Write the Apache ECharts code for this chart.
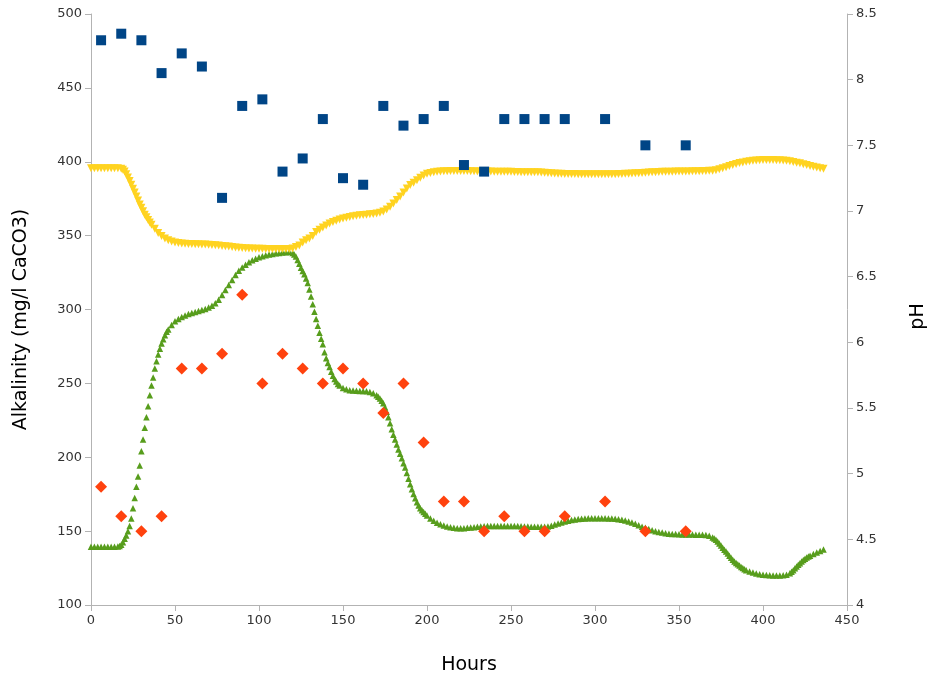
<!DOCTYPE html>
<html>
<head>
<meta charset="utf-8">
<script src="https://cdn.jsdelivr.net/npm/echarts@6/dist/echarts.min.js"></script>
<style>html,body{margin:0;padding:0;background:#fff;overflow:hidden}#c{width:929px;height:681px}</style>
</head>
<body>
<div id="c"></div>
<script>
// Measured samples
var sampleHours = [6,18,30,42,54,66,78,90,102,114,126,138,150,162,174,186,198,210,222,234,246,258,270,282,306,330,354];
var samplePH = [8.3,8.35,8.3,8.05,8.2,8.1,7.1,7.8,7.85,7.3,7.4,7.7,7.25,7.2,7.8,7.65,7.7,7.8,7.35,7.3,7.7,7.7,7.7,7.7,7.7,7.5,7.5];
var sampleAlk = [180,160,150,160,260,260,270,310,250,270,260,250,260,250,230,250,210,170,170,150,160,150,150,160,170,150,150];

// Modelled alkalinity [hour, mg/l]
var modelAlk = [
[0,139.5],[2,139.5],[4,139.5],[6,139.5],[8,139.5],[10,139.5],[12,139.5],[14,139.5],[16,139.6],[17,140],
[18,140.8],[19,142.5],[20,144.8],[21,147],[22,150],[23,153.5],[24,158.5],[25,165.5],[26,172.5],[27,180],
[28,187],[29,194.5],[30,204],[31,212],[32,220],[33,227],[34,234.5],[35,242],[36,248.5],[37,254],
[38,260],[39,265],[40,269.5],[41,273.5],[42,277],[43,279.8],[44,282.5],[45,285],[46,286.5],[48,289.5],
[50,292],[52,293.6],[54,295],[56,296],[58,297],[60,297.6],[62,298.3],[64,299],[66,299.6],[68,300.4],
[70,301.3],[72,302.5],[74,304.2],[76,306.6],[78,309.8],[80,313.2],[82,316.5],[84,320],[86,323.4],[88,326.3],
[90,328.4],[92,330.3],[94,332],[96,333.4],[98,334.4],[100,335.3],[102,336],[104,336.7],[106,337.2],[108,337.6],
[110,338],[112,338.3],[114,338.5],[116,338.7],[118,338.9],[120,338.3],[121,337.2],[122,335.8],[123,333.5],[124,331],
[125,328.2],[126,326],[127,323.8],[128,321],[129,318],[130,313.5],[131,308.8],[132,303.5],[133,298.5],[134,293.5],
[135,289],[136,284.2],[137,280.2],[138,276.5],[139,271],[140,267],[141,263.8],[142,261],[143,257.8],[144,255.2],
[145,253],[146,251.2],[147,249.6],[148,248.5],[150,246.8],[152,246],[154,245.4],[156,245.1],[158,245],[160,244.9],
[162,244.8],[164,244.6],[166,244.1],[168,243.3],[170,242],[171,241],[172,239.8],[173,238.3],[174,236.5],[175,233.8],
[176,230.8],[177,227],[178,223],[179,219],[180,215.3],[181,212],[182,208.7],[183,205.3],[184,202.3],[185,199.3],
[186,196],[187,193],[188,189.3],[189,185.4],[190,181.8],[191,178.3],[192,175.2],[193,172.2],[194,169.6],[195,167.3],
[196,165.5],[197,164.1],[198,163],[199,161.8],[200,160.6],[202,158.6],[204,157],[206,155.7],[208,154.7],[210,153.8],
[212,153.2],[214,152.7],[216,152.3],[218,152],[220,151.9],[222,152],[224,152.2],[226,152.4],[228,152.6],[230,152.9],
[232,153.1],[234,153.3],[236,153.5],[238,153.5],[240,153.5],[242,153.5],[244,153.5],[246,153.5],[248,153.5],[250,153.5],
[252,153.5],[254,153.4],[256,153.3],[258,153.2],[260,153.1],[262,153],[264,153],[266,153],[268,153],[270,153],
[272,153.2],[274,153.7],[276,154.4],[278,155.2],[280,155.9],[282,156.5],[284,157],[286,157.5],[288,157.9],[290,158.2],
[292,158.4],[294,158.6],[296,158.7],[298,158.7],[300,158.7],[302,158.7],[304,158.7],[306,158.7],[308,158.6],[310,158.5],
[312,158.3],[314,158.1],[316,157.7],[318,157.2],[320,156.5],[322,155.9],[324,155],[326,154],[328,153],[330,152.2],
[332,151.4],[334,150.6],[336,150],[338,149.4],[340,149],[342,148.6],[344,148.3],[346,148.1],[348,148],[350,147.9],
[352,147.8],[354,147.8],[356,147.7],[358,147.7],[360,147.6],[362,147.6],[364,147.5],[366,147.4],[368,146.8],[370,145.7],
[371,145],[372,144.2],[373,143],[374,141.7],[375,140.3],[376,138.8],[377,137.4],[378,136.2],[379,134.9],[380,133.4],
[381,132],[382,130.7],[383,129.4],[384,128.4],[385,127.5],[386,126.7],[387,125.8],[388,125],[389,124.2],[390,123.5],
[392,122.7],[394,122],[396,121.3],[398,120.8],[400,120.5],[402,120.3],[404,120.1],[406,120],[408,120],[410,120],
[412,120.1],[414,120.4],[416,121.5],[417,122.5],[418,123.6],[419,124.8],[420,126],[421,127.2],[422,128.3],[423,129.4],
[424,130.4],[425,131.3],[426,132.1],[427,132.8],[428,133.4],[430,134.5],[432,135.6],[434,136.6],[436,137.6]
];

// Modelled pH [hour, pH]
var modelPH = [
[0,7.325],[2,7.325],[4,7.325],[6,7.325],[8,7.325],[10,7.325],[12,7.325],[14,7.325],[16,7.325],[18,7.322],
[19,7.315],[20,7.3],[21,7.28],[22,7.255],[23,7.228],[24,7.2],[25,7.17],[26,7.14],[27,7.11],[28,7.08],
[29,7.05],[30,7.025],[31,6.998],[32,6.972],[33,6.952],[34,6.932],[35,6.912],[36,6.895],[38,6.865],[40,6.833],
[42,6.81],[44,6.79],[46,6.777],[48,6.768],[50,6.761],[52,6.756],[54,6.753],[56,6.751],[58,6.749],[60,6.748],
[62,6.747],[64,6.746],[66,6.745],[68,6.744],[70,6.743],[72,6.742],[74,6.74],[76,6.737],[78,6.734],[80,6.731],
[82,6.729],[84,6.726],[86,6.723],[88,6.72],[90,6.718],[92,6.716],[94,6.715],[96,6.714],[98,6.713],[100,6.712],
[102,6.712],[104,6.711],[106,6.711],[108,6.711],[110,6.711],[112,6.711],[114,6.711],[116,6.711],[118,6.711],[120,6.715],
[122,6.725],[124,6.738],[126,6.76],[128,6.778],[130,6.79],[132,6.81],[134,6.84],[136,6.857],[138,6.874],[140,6.89],
[142,6.905],[144,6.916],[146,6.926],[148,6.935],[150,6.943],[152,6.949],[154,6.955],[156,6.96],[158,6.964],[160,6.967],
[162,6.97],[164,6.972],[166,6.975],[168,6.978],[170,6.981],[172,6.986],[174,6.996],[176,7.012],[178,7.033],[180,7.057],
[182,7.083],[184,7.11],[186,7.14],[188,7.172],[190,7.198],[192,7.216],[194,7.235],[196,7.254],[198,7.27],[200,7.283],
[202,7.29],[204,7.295],[206,7.298],[208,7.3],[210,7.302],[212,7.303],[214,7.304],[216,7.305],[218,7.305],[220,7.305],
[222,7.305],[224,7.304],[226,7.303],[228,7.302],[230,7.301],[232,7.3],[234,7.3],[236,7.3],[238,7.3],[240,7.299],
[242,7.299],[244,7.299],[246,7.298],[248,7.298],[250,7.298],[252,7.297],[254,7.297],[256,7.296],[258,7.296],[260,7.296],
[262,7.295],[264,7.295],[266,7.295],[268,7.294],[270,7.292],[272,7.29],[274,7.288],[276,7.286],[278,7.284],[280,7.283],
[282,7.282],[284,7.282],[286,7.281],[288,7.281],[290,7.28],[292,7.28],[294,7.28],[296,7.279],[298,7.279],[300,7.279],
[302,7.279],[304,7.279],[306,7.279],[308,7.279],[310,7.279],[312,7.28],[314,7.281],[316,7.282],[318,7.283],[320,7.284],
[322,7.286],[324,7.287],[326,7.288],[328,7.29],[330,7.292],[332,7.293],[334,7.295],[336,7.296],[338,7.297],[340,7.298],
[342,7.298],[344,7.299],[346,7.299],[348,7.3],[350,7.3],[352,7.3],[354,7.301],[356,7.301],[358,7.302],[360,7.302],
[362,7.303],[364,7.304],[366,7.305],[368,7.306],[370,7.307],[372,7.311],[374,7.318],[376,7.326],[378,7.334],[380,7.342],
[382,7.35],[384,7.358],[386,7.365],[388,7.37],[390,7.375],[392,7.379],[394,7.382],[396,7.385],[398,7.387],[400,7.388],
[402,7.388],[404,7.388],[406,7.388],[408,7.387],[410,7.386],[412,7.385],[414,7.383],[416,7.379],[418,7.374],[420,7.368],
[422,7.363],[424,7.356],[426,7.35],[428,7.343],[430,7.337],[432,7.331],[434,7.326],[436,7.322]
];

var xName = 'Hours', yLeftName = 'Alkalinity (mg/l CaCO3)', yRightName = 'pH';

var FONT = 'DejaVu Sans';
var axisGray = '#b3b3b3';
var labelStyle = {color: '#333', fontSize: 13, fontFamily: FONT};
var nameStyle = {color: '#000', fontSize: 19, fontFamily: FONT};

function pairs(xs, ys) { return xs.map(function (x, i) { return [x, ys[i]]; }); }

var chart = echarts.init(document.getElementById('c'), null, {renderer: 'canvas', width: 929, height: 681});
chart.setOption({
  animation: false,
  backgroundColor: '#fff',
  grid: {left: 91, right: 82, top: 14, bottom: 76, containLabel: false, outerBoundsMode: 'none'},
  xAxis: {
    type: 'value', min: 0, max: 450, interval: 50,
    name: xName, nameLocation: 'middle', nameGap: 51, nameTextStyle: nameStyle,
    axisLine: {show: true, lineStyle: {color: axisGray, width: 1}},
    axisTick: {show: true, length: 6, lineStyle: {color: axisGray}},
    axisLabel: Object.assign({margin: 9}, labelStyle),
    splitLine: {show: false}
  },
  yAxis: [{
    type: 'value', min: 100, max: 500, interval: 50, position: 'left',
    name: yLeftName, nameLocation: 'middle', nameGap: 60, nameRotate: 90,
    nameTextStyle: Object.assign({padding: [0, 20, 0, 0]}, nameStyle),
    axisLine: {show: true, lineStyle: {color: axisGray, width: 1}},
    axisTick: {show: true, length: 6, lineStyle: {color: axisGray}},
    axisLabel: Object.assign({margin: 9}, labelStyle),
    splitLine: {show: false}
  }, {
    type: 'value', min: 4, max: 8.5, interval: 0.5, position: 'right',
    name: yRightName, nameLocation: 'middle', nameGap: 62, nameRotate: 90,
    nameTextStyle: Object.assign({padding: [0, 14, 0, 0]}, nameStyle),
    axisLine: {show: true, lineStyle: {color: axisGray, width: 1}},
    axisTick: {show: true, length: 6, lineStyle: {color: axisGray}},
    axisLabel: Object.assign({margin: 9}, labelStyle),
    splitLine: {show: false}
  }],
  series: [{
    name: 'Model alkalinity', type: 'scatter', yAxisIndex: 0,
    symbol: 'triangle', symbolSize: 6.5,
    itemStyle: {color: '#579d1c', opacity: 1},
    data: modelAlk, z: 2
  }, {
    name: 'Model pH', type: 'scatter', yAxisIndex: 1,
    symbol: 'triangle', symbolRotate: 180, symbolSize: 8,
    itemStyle: {color: '#ffd320', opacity: 1},
    data: modelPH, z: 3
  }, {
    name: 'Alkalinity', type: 'scatter', yAxisIndex: 0,
    symbol: 'diamond', symbolSize: 12,
    itemStyle: {color: '#ff420e', opacity: 1},
    data: pairs(sampleHours, sampleAlk), z: 4
  }, {
    name: 'pH', type: 'scatter', yAxisIndex: 1,
    symbol: 'rect', symbolSize: 10,
    itemStyle: {color: '#004586', opacity: 1},
    data: pairs(sampleHours, samplePH), z: 5
  }]
});
</script>
</body>
</html>
